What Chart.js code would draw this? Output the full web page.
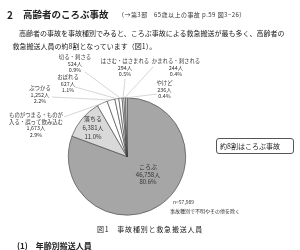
<!DOCTYPE html>
<html lang="ja">
<head>
<meta charset="utf-8">
<script src="https://cdn.jsdelivr.net/npm/chart.js@4"></script>
<style>
  body { margin: 0; background: #fff; }
  #wrap { position: relative; width: 300px; height: 250px; overflow: hidden;
          font-family: "Noto Sans CJK JP", sans-serif; color: #222; }
  #wrap .t { position: absolute; white-space: nowrap; line-height: 1; }
  canvas { position: absolute; left: 0; top: 0; }
  #box { position: absolute; left: 216px; top: 138px; width: 78px; height: 16px;
         box-sizing: border-box; border: 1px solid #555; border-radius: 3px; }
</style>
</head>
<body>
<div id="wrap">
  <canvas id="jikoChart" width="300" height="250"></canvas>
  <div class="t" style="left:7px;top:9.5px;font-size:10px;font-weight:bold">2</div>
  <div class="t" style="left:23px;top:9.5px;font-size:9.5px;font-weight:bold">高齢者のころぶ事故</div>
  <div class="t" style="left:118px;top:12px;font-size:6px;letter-spacing:0.45px;color:#333">（→第3部　65歳以上の事故 p.59 図3−26）</div>
  <div class="t" style="left:19px;top:29.5px;font-size:7px">高齢者の事故を事故種別でみると、ころぶ事故による救急搬送が最も多く、高齢者の</div>
  <div class="t" style="left:12.5px;top:42.5px;font-size:7px">救急搬送人員の約8割となっています（図1）。</div>
  <div id="box"></div>
  <div class="t" style="left:220px;top:142.5px;font-size:7px">約8割はころぶ事故</div>
  <div class="t" id="nTotal" style="left:173px;top:198.5px;font-size:5px;color:#333"></div>
  <div class="t" style="left:170px;top:207.5px;font-size:5px;color:#333">事故種別で不明やその他を除く</div>
  <div class="t" style="left:97px;top:225.5px;font-size:7px;letter-spacing:0.8px">図1　事故種別と救急搬送人員</div>
  <div class="t" style="left:17px;top:241.5px;font-size:8px;font-weight:bold">(1)　年齢別搬送人員</div>
</div>
<script>
// Dados
const categorias = [
  "ころぶ", "落ちる", "ものがつまる・ものが\n入る・誤って飲み込む", "ぶつかる",
  "おぼれる", "切る・刺さる", "はさむ・はさまれる", "かまれる・刺される", "やけど"
];
const pessoas = [46758, 6381, 1673, 1252, 627, 524, 294, 244, 236];

// Estilo
const cores = ["#a6a6a6", "#d9d9d9", "#fff", "#fff", "#fff", "#fff", "#fff", "#fff", "#fff"];

// Posição dos rótulos (centro da 1ª linha) e início da linha guia
const rotulos = [
  { x: 148, y: 167, tam: 6, passo: 7.5 },
  { x: 93, y: 118.5, tam: 6, passo: 9 },
  { x: 36, y: 115, linha: [64, 117] },
  { x: 40, y: 88, linha: [52, 97] },
  { x: 68, y: 77, linha: [75, 87] },
  { x: 75, y: 57, linha: [85, 72] },
  { x: 125, y: 61, linha: [125, 79] },
  { x: 176, y: 61, linha: [153, 67] },
  { x: 164.5, y: 83, linha: [157, 94] }
];

const total = pessoas.reduce((a, b) => a + b, 0);
document.getElementById("nTotal").textContent = "n=" + total.toLocaleString("en-US");

const rotulosPlugin = {
  id: "rotulos",
  afterDatasetsDraw(chart) {
    const ctx = chart.ctx;
    const arcos = chart.getDatasetMeta(0).data;
    ctx.save();
    // linhas guia
    ctx.strokeStyle = "#c4c4c4";
    ctx.lineWidth = 0.7;
    arcos.forEach((arco, i) => {
      const r = rotulos[i];
      if (!r.linha) return;
      const p = arco.getProps(["x", "y", "startAngle", "endAngle", "outerRadius"], true);
      const meio = (p.startAngle + p.endAngle) / 2;
      ctx.beginPath();
      ctx.moveTo(r.linha[0], r.linha[1]);
      ctx.lineTo(p.x + Math.cos(meio) * p.outerRadius, p.y + Math.sin(meio) * p.outerRadius);
      ctx.stroke();
    });
    // textos
    ctx.fillStyle = "#333";
    ctx.textAlign = "center";
    ctx.textBaseline = "middle";
    categorias.forEach((nome, i) => {
      const r = rotulos[i];
      const tam = r.tam || 5.4;
      const passo = r.passo || 6.6;
      ctx.font = tam + 'px "Noto Sans CJK JP"';
      const linhas = nome.split("\n").concat([
        pessoas[i].toLocaleString("en-US") + "人",
        (pessoas[i] / total * 100).toFixed(1) + "%"
      ]);
      linhas.forEach((txt, k) => ctx.fillText(txt, r.x, r.y + k * passo));
    });
    ctx.restore();
  }
};

// Gráfico
const ctx = document.getElementById("jikoChart").getContext("2d");

const jikoChart = new Chart(ctx, {
  type: "pie",
  data: {
    labels: categorias,
    datasets: [
      {
        data: pessoas,
        backgroundColor: cores,
        borderColor: "#3a3a3a",
        borderWidth: 0.6,
      },
    ],
  },
  options: {
    responsive: false,
    animation: false,
    layout: {
      padding: { left: 68, right: 114, top: 97, bottom: 34 },
    },
    plugins: {
      legend: { display: false },
      tooltip: { enabled: false },
    },
  },
  plugins: [rotulosPlugin],
});
</script>
</body>
</html>
